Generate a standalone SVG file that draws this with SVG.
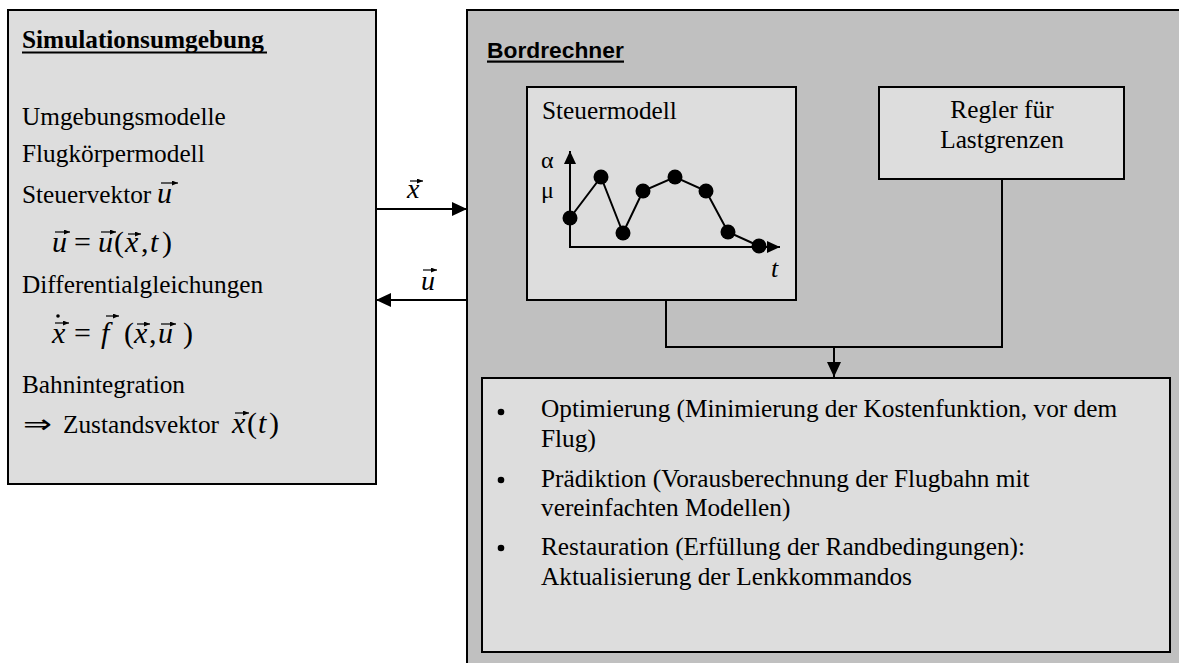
<svg xmlns="http://www.w3.org/2000/svg" width="1179" height="663" viewBox="0 0 1179 663">
<defs>
<style>
.t{font-family:"Liberation Serif","Times New Roman",serif;font-size:25.3px;fill:#000}
.tb{font-family:"Liberation Serif","Times New Roman",serif;font-size:25.3px;font-weight:bold;fill:#000}
.ab{font-family:"Liberation Sans",Arial,sans-serif;font-size:22.8px;font-weight:bold;fill:#000}
.m{font-family:"Liberation Serif","Times New Roman",serif;font-size:30px;font-style:italic;fill:#000}
.mu{font-family:"Liberation Serif","Times New Roman",serif;font-size:30px;fill:#000}
.box{fill:#dddddd;stroke:#000;stroke-width:2}
.ln{fill:none;stroke:#000;stroke-width:2}
.va{fill:none;stroke:#000;stroke-width:1.2}
</style>
<marker id="arr" markerUnits="userSpaceOnUse" markerWidth="15" markerHeight="14" refX="15" refY="7" orient="auto">
<path d="M0,0 L15,7 L0,14 z" fill="#000"/>
</marker>
<marker id="arrS" markerUnits="userSpaceOnUse" markerWidth="13" markerHeight="12" refX="13" refY="6" orient="auto">
<path d="M0,0 L13,6 L0,12 z" fill="#000"/>
</marker>
<marker id="vh" markerUnits="userSpaceOnUse" markerWidth="6" markerHeight="5" refX="6" refY="2.5" orient="auto">
<path d="M0,0 L6,2.5 L0,5 z" fill="#000"/>
</marker>
</defs>
<rect width="1179" height="663" fill="#fff"/>

<g id="simulationsumgebung">
<rect class="box" x="8" y="10" width="368" height="474"/>
<text class="tb" x="22" y="48">Simulationsumgebung</text>
<rect x="22" y="51.5" width="245" height="2" fill="#000"/>
<text class="t" x="22" y="125">Umgebungsmodelle</text>
<text class="t" x="22" y="162">Flugkörpermodell</text>
<text class="t" x="22" y="203">Steuervektor</text>
<text class="m" x="157" y="203">u</text>

<text class="m" x="52" y="252">u</text>
<text class="mu" x="74" y="252">=</text>
<text class="m" x="98" y="252">u</text>
<text class="mu" x="114" y="252">(</text>
<text class="m" x="125" y="252">x</text>
<text class="mu" x="141" y="252">,</text>
<text class="m" x="150" y="252">t</text>
<text class="mu" x="162" y="252">)</text>

<text class="t" x="22" y="293">Differentialgleichungen</text>

<text class="m" x="52" y="343">x</text>
<text class="mu" x="74" y="343">=</text>
<text class="m" x="101" y="343">f</text>
<text class="mu" x="124" y="343">(</text>
<text class="m" x="134" y="343">x</text>
<text class="mu" x="149" y="343">,</text>
<text class="m" x="158" y="343">u</text>
<text class="mu" x="183" y="343">)</text>

<text class="t" x="22" y="393">Bahnintegration</text>

<text x="23" y="433" style="font-family:'DejaVu Sans',sans-serif;font-size:26px" textLength="29" lengthAdjust="spacingAndGlyphs">⇒</text>
<text class="t" x="63" y="433">Zustandsvektor</text>
<text class="m" x="232" y="433">x</text>
<text class="mu" x="247" y="433">(</text>
<text class="m" x="258" y="433">t</text>
<text class="mu" x="269" y="433">)</text>

<g id="vector-accents">
<line class="va" x1="161" y1="183" x2="178" y2="183" marker-end="url(#vh)"/>
<line class="va" x1="55" y1="232" x2="70" y2="232" marker-end="url(#vh)"/>
<line class="va" x1="101" y1="232" x2="116" y2="232" marker-end="url(#vh)"/>
<line class="va" x1="128" y1="234" x2="141" y2="234" marker-end="url(#vh)"/>
<circle cx="58" cy="316" r="1.8" fill="#000"/>
<line class="va" x1="55" y1="323" x2="69" y2="323" marker-end="url(#vh)"/>
<line class="va" x1="106" y1="316" x2="119" y2="316" marker-end="url(#vh)"/>
<line class="va" x1="137" y1="324" x2="150" y2="324" marker-end="url(#vh)"/>
<line class="va" x1="161" y1="324" x2="176" y2="324" marker-end="url(#vh)"/>
<line class="va" x1="235" y1="413" x2="249" y2="413" marker-end="url(#vh)"/>
</g>
</g>

<g id="bordrechner">
<rect x="467" y="10" width="760" height="700" fill="#c0c0c0" stroke="#000" stroke-width="2"/>
<text class="ab" x="487" y="58">Bordrechner</text>
<rect x="487" y="60.5" width="137" height="2.2" fill="#000"/>
</g>

<g id="steuermodell">
<rect class="box" x="527" y="87" width="269" height="213"/>
<text class="t" x="542" y="119">Steuermodell</text>
<text class="mu" x="541" y="168" style="font-size:24px">α</text>
<text class="mu" x="541" y="198" style="font-size:24px">μ</text>
<line class="ln" x1="570" y1="247" x2="570" y2="151" marker-end="url(#arrS)"/>
<line class="ln" x1="569" y1="247" x2="780" y2="247" marker-end="url(#arrS)"/>
<polyline class="ln" points="570,218 601,177 623,233 643,191 675,177 706,191 728,232 759,246"/>
<g fill="#000">
<circle cx="570" cy="218" r="7.5"/>
<circle cx="601" cy="177" r="7.5"/>
<circle cx="623" cy="233" r="7.5"/>
<circle cx="643" cy="191" r="7.5"/>
<circle cx="675" cy="177" r="7.5"/>
<circle cx="706" cy="191" r="7.5"/>
<circle cx="728" cy="232" r="7.5"/>
<circle cx="759" cy="246" r="7.5"/>
</g>
<text class="m" x="771" y="277" style="font-size:26px">t</text>
</g>

<g id="regler">
<rect class="box" x="879" y="87" width="245" height="92"/>
<text class="t" x="1002" y="118" text-anchor="middle">Regler für</text>
<text class="t" x="1002" y="148" text-anchor="middle">Lastgrenzen</text>
</g>

<g id="verfahren">
<rect class="box" x="482" y="378" width="688" height="274"/>
<g fill="#000">
<circle cx="501" cy="412" r="3.3"/>
<circle cx="501" cy="480" r="3.3"/>
<circle cx="501" cy="548" r="3.3"/>
</g>
<text class="t" x="541" y="417">Optimierung (Minimierung der Kostenfunktion, vor dem</text>
<text class="t" x="541" y="447">Flug)</text>
<text class="t" x="541" y="487">Prädiktion (Vorausberechnung der Flugbahn mit</text>
<text class="t" x="541" y="516">vereinfachten Modellen)</text>
<text class="t" x="541" y="555">Restauration (Erfüllung der Randbedingungen):</text>
<text class="t" x="541" y="585">Aktualisierung der Lenkkommandos</text>
</g>

<g id="connectors">
<line class="ln" x1="376" y1="209" x2="467" y2="209" marker-end="url(#arr)"/>
<text class="m" x="407" y="198" style="font-size:28px">x</text>
<line class="va" x1="410" y1="181" x2="423" y2="181" marker-end="url(#vh)"/>
<line class="ln" x1="467" y1="300" x2="376" y2="300" marker-end="url(#arr)"/>
<text class="m" x="421" y="290" style="font-size:28px">u</text>
<line class="va" x1="423" y1="270" x2="437" y2="270" marker-end="url(#vh)"/>
<polyline class="ln" points="666,300 666,347 1002,347 1002,179"/>
<line class="ln" x1="834" y1="347" x2="834" y2="377" marker-end="url(#arr)"/>
</g>
</svg>
